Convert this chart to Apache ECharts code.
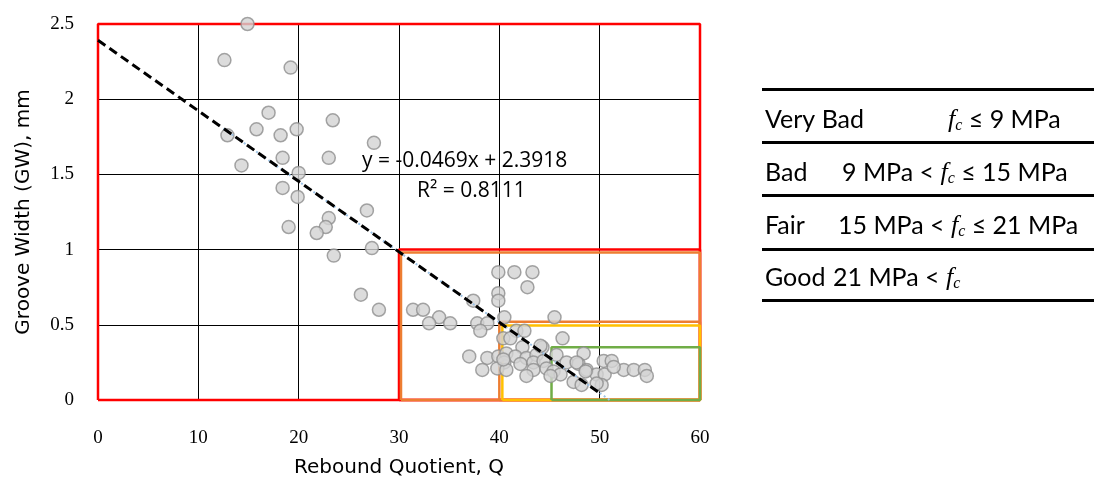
<!DOCTYPE html>
<html>
<head>
<meta charset="utf-8">
<script src="https://cdn.jsdelivr.net/npm/echarts@6/dist/echarts.min.js"></script>
<style>
  html, body { margin: 0; padding: 0; background: #fff; }
  #chart { width: 1094px; height: 483px; }
</style>
</head>
<body>
<div id="chart"></div>
<script>
// rebound quotient (x) and groove width (y) of each test point
const quotient = [
  14.9, 12.6, 19.2, 17.0, 23.4, 15.8, 18.2, 19.8, 12.9, 27.5,
  18.4, 23.0, 14.3, 20.0, 18.4, 19.9, 26.8, 23.0, 22.7, 19.0,
  21.8, 27.3, 23.5, 26.2, 28.0, 31.4, 32.4, 34.0, 33.0, 35.1,
  37.4, 37.8, 38.8, 38.1, 39.9, 41.5, 43.3, 42.8, 39.9, 39.9,
  40.5, 45.5, 41.7, 42.5, 40.4, 41.1, 46.3, 42.3, 44.3, 37.0,
  38.8, 39.9, 40.7, 41.6, 42.7, 43.7, 45.7, 48.4, 40.5, 42.1,
  43.4, 44.4, 46.7, 47.9, 50.4, 51.2, 38.3, 39.8, 40.7, 43.4,
  44.7, 45.4, 48.7, 52.4, 53.4, 54.5, 54.7, 42.7, 46.1, 49.7,
  50.5, 47.4, 48.2, 50.2, 45.1, 44.1, 51.4, 49.7, 40.4, 47.7,
  48.6
];
const grooveWidth = [
  2.50, 2.26, 2.21, 1.91, 1.86, 1.80, 1.76, 1.80, 1.76, 1.71,
  1.61, 1.61, 1.56, 1.51, 1.41, 1.35, 1.26, 1.21, 1.15, 1.15,
  1.11, 1.01, 0.96, 0.70, 0.60, 0.60, 0.60, 0.55, 0.51, 0.51,
  0.66, 0.51, 0.51, 0.46, 0.85, 0.85, 0.85, 0.75, 0.71, 0.66,
  0.55, 0.55, 0.46, 0.46, 0.41, 0.41, 0.41, 0.35, 0.35, 0.29,
  0.28, 0.29, 0.31, 0.29, 0.28, 0.30, 0.30, 0.31, 0.25, 0.24,
  0.25, 0.26, 0.25, 0.24, 0.26, 0.26, 0.20, 0.21, 0.20, 0.20,
  0.21, 0.19, 0.20, 0.20, 0.20, 0.20, 0.16, 0.16, 0.17, 0.17,
  0.17, 0.12, 0.10, 0.10, 0.16, 0.36, 0.22, 0.11, 0.27, 0.25,
  0.19
];

// linear fit
const slope = -0.0469;
const intercept = 2.3918;
const fitRange = [0, 50];
const fitRangeBlue = [12.5, 51];

// quality zones, boxes as [x0, y0, x1, y1]
const redBoxes = [[0, 0, 60, 2.5], [30, 0, 60, 1.0]];
const orangeBoxes = [[30.2, 0, 60, 0.98], [40, 0, 60, 0.52]];
const yellowBoxes = [[40.3, 0, 60, 0.495]];
const greenBoxes = [[45.2, 0, 60, 0.35]];

const xTicks = { min: 0, max: 60, interval: 10 };
const yTicks = { min: 0, max: 2.5, interval: 0.5 };

// strength classes shown in the table
const classNames = ['Very Bad', 'Bad', 'Fair', 'Good'];
const classRanges = [
  '{i|f}{s|c} ≤ 9 MPa',
  '9 MPa < {i|f}{s|c} ≤ 15 MPa',
  '15 MPa < {i|f}{s|c} ≤ 21 MPa',
  '21 MPa < {i|f}{s|c}'
];

const boxPath = b => [[b[0], b[1]], [b[2], b[1]], [b[2], b[3]], [b[0], b[3]], [b[0], b[1]]];

const boxSeries = (boxes, color, width) => boxes.map(b => ({
  type: 'line',
  data: boxPath(b),
  showSymbol: false,
  symbol: 'none',
  clip: false,
  silent: true,
  lineStyle: { color: color, width: width },
  z: 3
}));

const chart = echarts.init(document.getElementById('chart'));

const points = quotient.map((q, i) => [q, grooveWidth[i]]);
const fitLine = fitRange.map(x => [x, slope * x + intercept]);
const fitLineBlue = fitRangeBlue.map(x => [x, slope * x + intercept]);

const tickFont = { fontFamily: 'Liberation Serif', fontSize: 19, color: '#000' };
const nameFont = { fontFamily: 'DejaVu Sans', fontSize: 20, color: '#000' };
const tableFont = '25px Lato';

const fc = {
  i: { fontFamily: 'Liberation Serif', fontStyle: 'italic', fontSize: 26, color: '#000' },
  s: { fontFamily: 'Liberation Serif', fontStyle: 'italic', fontSize: 16, color: '#000', padding: [12, 0, 0, 0] }
};

// table layout
const rowY = [120, 173, 226, 278];
const rangeX = [948, 842, 838, 833];
const ruleY = [88, 141, 194, 248, 299];

const tableGraphics = [];
ruleY.forEach(y => {
  tableGraphics.push({ type: 'rect', shape: { x: 762, y: y, width: 332, height: 3 }, style: { fill: '#000' } });
});
classNames.forEach((name, i) => {
  tableGraphics.push({
    type: 'text', x: 765, y: rowY[i],
    style: { text: name, font: tableFont, fill: '#000', verticalAlign: 'middle' }
  });
  tableGraphics.push({
    type: 'text', x: rangeX[i], y: rowY[i],
    style: { text: classRanges[i], font: tableFont, fill: '#000', verticalAlign: 'middle', rich: fc }
  });
});

const option = {
  animation: false,
  grid: { left: 98, right: 394, top: 24, bottom: 83 },
  xAxis: {
    type: 'value',
    min: xTicks.min, max: xTicks.max, interval: xTicks.interval,
    name: 'Rebound Quotient, Q',
    nameLocation: 'middle',
    nameGap: 58,
    nameTextStyle: nameFont,
    axisLine: { show: false },
    axisTick: { show: false },
    axisLabel: Object.assign({ margin: 29 }, tickFont),
    splitLine: { lineStyle: { color: '#000', width: 1 } }
  },
  yAxis: {
    type: 'value',
    min: yTicks.min, max: yTicks.max, interval: yTicks.interval,
    name: 'Groove Width (GW), mm',
    nameLocation: 'middle',
    nameGap: 64,
    nameTextStyle: nameFont,
    axisLine: { show: false },
    axisTick: { show: false },
    axisLabel: Object.assign({ margin: 24 }, tickFont),
    splitLine: { lineStyle: { color: '#000', width: 1 } }
  },
  series: [
    ...boxSeries(redBoxes, '#ff0000', 2.5),
    ...boxSeries(orangeBoxes, '#ed7d31', 2.5),
    ...boxSeries(yellowBoxes, '#ffc000', 2.5),
    ...boxSeries(greenBoxes, '#70ad47', 2.5),
    {
      type: 'scatter',
      data: points,
      symbolSize: 13,
      clip: false,
      itemStyle: { color: '#d3d3d3', borderColor: '#8f8f8f', borderWidth: 1.5 },
      z: 4
    },
    {
      type: 'line',
      data: fitLineBlue,
      showSymbol: false,
      symbol: 'none',
      silent: true,
      lineStyle: { color: '#9dc3e6', width: 2, type: [2, 3] },
      z: 5
    },
    {
      type: 'line',
      data: fitLine,
      showSymbol: false,
      symbol: 'none',
      silent: true,
      lineStyle: { color: '#000', width: 3, type: [9, 5] },
      z: 6
    }
  ],
  graphic: [
    {
      type: 'text', x: 362, y: 161, z: 10,
      style: { text: 'y = -0.0469x + 2.3918', font: '21px "Open Sans"', fill: '#000', verticalAlign: 'middle' }
    },
    {
      type: 'text', x: 417, y: 191, z: 10,
      style: { text: 'R² = 0.8111', font: '21px "Open Sans"', fill: '#000', verticalAlign: 'middle' }
    },
    ...tableGraphics
  ]
};

chart.setOption(option);
</script>
</body>
</html>
